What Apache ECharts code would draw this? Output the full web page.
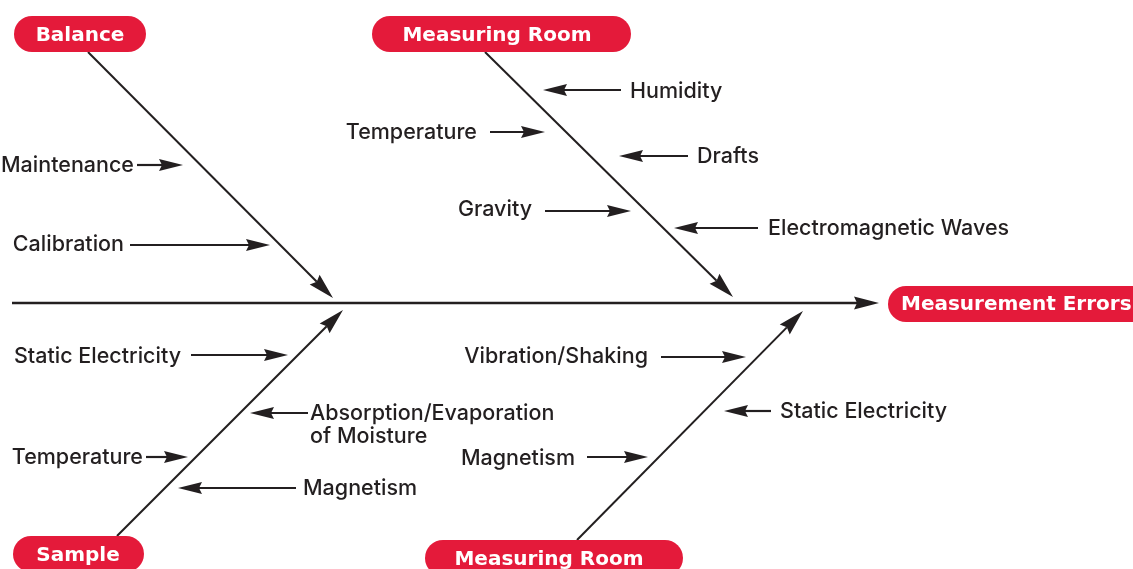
<!DOCTYPE html>
<html><head><meta charset="utf-8">
<script src="https://cdn.jsdelivr.net/npm/echarts@6/dist/echarts.min.js"></script>
<style>html,body{margin:0;padding:0;background:#fff}#c{width:1133px;height:569px}</style>
</head><body><div id="c"></div>
<script>
// ---- content ----
const effectLabel = 'Measurement Errors';
const categoryLabels = ['Balance', 'Measuring Room', 'Sample', 'Measuring Room'];
const causeLabels = [
  ['Maintenance', 'Calibration'],
  ['Humidity', 'Temperature', 'Drafts', 'Gravity', 'Electromagnetic Waves'],
  ['Static Electricity', 'Absorption/Evaporation\nof Moisture', 'Temperature', 'Magnetism'],
  ['Vibration/Shaking', 'Static Electricity', 'Magnetism']
];

// ---- layout (diagram units = px, y downward) ----
const spineLayout = [12, 303, 879, 303];
const effectBoxLayout = [888, 286, 280, 36, 901];           // x, y, w, h, text x
const categoryBoxLayout = [[14, 16, 132, 80], [372, 16, 259, 497], [13, 536, 131, 78], [425, 540, 258, 549]]; // x, y, w, text cx
const boneLayout = [[88, 52, 333, 298], [485, 52, 733, 297], [117, 536, 343, 310], [577, 540, 803, 311]];
// arrow: [tail x, y, tip x], label: [x, y, align]
const causeArrowLayout = [
  [[137, 165, 183], [130, 245, 270]],
  [[621, 90, 543], [490, 132, 545], [688, 156, 619], [545, 211, 631], [758, 228, 674]],
  [[191, 355, 288], [308, 413, 250], [146, 457, 188], [296, 488, 178]],
  [[661, 357, 746], [771, 411, 724], [587, 457, 648]]
];
const causeLabelLayout = [
  [[134, 166, 'right'], [124, 245, 'right']],
  [[630, 92, 'left'], [477, 133, 'right'], [697, 157, 'left'], [532, 210, 'right'], [768, 229, 'left']],
  [[181, 357, 'right'], [310, 414, 'left'], [143, 458, 'right'], [303, 489, 'left']],
  [[648, 357, 'right'], [780, 412, 'left'], [575, 459, 'right']]
];

const INK = '#231f20';
const RED = '#e41a3a';
const FONT = 'Inter';
const BOLD_FONT = 'DejaVu Sans';

function arrowChildren(api, x1, y1, x2, y2, lw, hl, hw) {
  const p1 = api.coord([x1, y1]);
  const p2 = api.coord([x2, y2]);
  const dx = p2[0] - p1[0], dy = p2[1] - p1[1];
  const L = Math.hypot(dx, dy), ux = dx / L, uy = dy / L;
  const px = -uy, py = ux;
  const bx = p2[0] - ux * hl, by = p2[1] - uy * hl;
  const nx = p2[0] - ux * (hl - 3), ny = p2[1] - uy * (hl - 3);
  return [
    { type: 'line', shape: { x1: p1[0], y1: p1[1], x2: nx, y2: ny }, style: { stroke: INK, lineWidth: lw } },
    { type: 'polygon', shape: { points: [[p2[0], p2[1]], [bx + px * hw, by + py * hw], [nx, ny], [bx - px * hw, by - py * hw]] }, style: { fill: INK } }
  ];
}

const spineData = [spineLayout.slice()];
const boneData = boneLayout.map((b, i) => b.concat([i]));
const causeData = [];
causeArrowLayout.forEach((arr, c) => arr.forEach((a, k) => {
  const lab = causeLabelLayout[c][k];
  causeData.push([a[0], a[1], a[2], lab[0], lab[1], c, k, lab[2] === 'left' ? 0 : 1]);
}));
const boxData = categoryBoxLayout.map((b, i) => b.concat([i]));

const chart = echarts.init(document.getElementById('c'), null, { renderer: 'canvas' });
chart.setOption({
  animation: false,
  backgroundColor: '#ffffff',
  grid: { left: 0, right: 0, top: 0, bottom: 0 },
  xAxis: { type: 'value', min: 0, max: 1133, show: false },
  yAxis: { type: 'value', min: 0, max: 569, inverse: true, show: false },
  series: [
    {
      type: 'custom', name: 'spine', clip: false, data: spineData,
      renderItem: (params, api) => ({ type: 'group', children: arrowChildren(api, api.value(0), api.value(1), api.value(2), api.value(3), 2.5, 25, 6.5) })
    },
    {
      type: 'custom', name: 'bones', clip: false, data: boneData,
      renderItem: (params, api) => ({ type: 'group', children: arrowChildren(api, api.value(0), api.value(1), api.value(2), api.value(3), 2, 26, 7) })
    },
    {
      type: 'custom', name: 'causes', clip: false, data: causeData,
      renderItem: (params, api) => {
        const c = api.value(5), k = api.value(6);
        const ch = arrowChildren(api, api.value(0), api.value(1), api.value(2), api.value(1), 2.2, 24, 6);
        const lp = api.coord([api.value(3), api.value(4)]);
        const txt = causeLabels[c][k];
        const multi = txt.indexOf('\n') >= 0;
        ch.push({
          type: 'text',
          style: {
            x: lp[0], y: lp[1], text: txt, fill: INK,
            fontFamily: FONT, fontWeight: 500, fontSize: 21.5, lineHeight: 23,
            align: api.value(7) === 0 ? 'left' : 'right',
            verticalAlign: multi ? 'top' : 'middle'
          },
          y: multi ? -11.5 : 0
        });
        return { type: 'group', children: ch };
      }
    },
    {
      type: 'custom', name: 'categories', clip: false, data: boxData,
      renderItem: (params, api) => {
        const p = api.coord([api.value(0), api.value(1)]);
        const s = api.size([api.value(2), 36]);
        const t = api.coord([api.value(3), api.value(1) + 19.5]);
        return {
          type: 'group', children: [
            { type: 'rect', shape: { x: p[0], y: p[1], width: s[0], height: s[1], r: s[1] / 2 }, style: { fill: RED } },
            { type: 'text', style: { x: t[0], y: t[1], text: categoryLabels[api.value(4)], fill: '#fff', fontFamily: BOLD_FONT, fontWeight: 'bold', fontSize: 20, align: 'center', verticalAlign: 'middle' } }
          ]
        };
      }
    },
    {
      type: 'custom', name: 'effect', clip: false, data: [effectBoxLayout.slice()],
      renderItem: (params, api) => {
        const p = api.coord([api.value(0), api.value(1)]);
        const s = api.size([api.value(2), api.value(3)]);
        const t = api.coord([api.value(4), api.value(1) + api.value(3) / 2 + 1]);
        return {
          type: 'group', children: [
            { type: 'rect', shape: { x: p[0], y: p[1], width: s[0], height: s[1], r: s[1] / 2 }, style: { fill: RED } },
            { type: 'text', style: { x: t[0], y: t[1], text: effectLabel, fill: '#fff', fontFamily: BOLD_FONT, fontWeight: 'bold', fontSize: 20, align: 'left', verticalAlign: 'middle' } }
          ]
        };
      }
    }
  ]
});
</script></body></html>
